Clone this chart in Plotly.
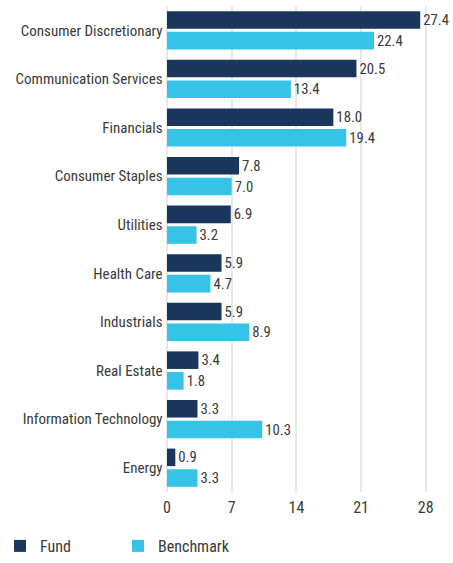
import plotly.graph_objects as go

categories = ["Consumer Discretionary", "Communication Services", "Financials",
              "Consumer Staples", "Utilities", "Health Care", "Industrials",
              "Real Estate", "Information Technology", "Energy"]
fund = [27.4, 20.5, 18.0, 7.8, 6.9, 5.9, 5.9, 3.4, 3.3, 0.9]
benchmark = [22.4, 13.4, 19.4, 7.0, 3.2, 4.7, 8.9, 1.8, 10.3, 3.3]
tick_vals = [0, 7, 14, 21, 28]

FONT = "Roboto Condensed, sans-serif"
TXT = "#3a3a3a"

fig = go.Figure()
fig.add_trace(go.Bar(
    y=categories, x=fund, name="Fund", orientation="h",
    marker=dict(color="#1b365d", line=dict(width=0)),
    text=[f"{v:.1f}" for v in fund], textposition="outside",
    textfont=dict(size=16, color=TXT, family=FONT), cliponaxis=False,
))
fig.add_trace(go.Bar(
    y=categories, x=benchmark, name="Benchmark", orientation="h",
    marker=dict(color="#35c4e8", line=dict(width=0)),
    text=[f"{v:.1f}" for v in benchmark], textposition="outside",
    textfont=dict(size=16, color=TXT, family=FONT), cliponaxis=False,
))

fig.update_layout(
    width=453, height=563,
    margin=dict(l=167, r=0, t=6, b=71),
    barmode="group", bargap=0.15, bargroupgap=0.15,
    plot_bgcolor="white", paper_bgcolor="white",
    font=dict(family=FONT, size=16, color=TXT),
    showlegend=True,
    legend=dict(orientation="h", xref="container", yref="container",
                x=0, xanchor="left", y=0, yanchor="bottom",
                font=dict(size=16, color=TXT, family=FONT), itemwidth=30,
                entrywidth=73, entrywidthmode="pixels"),
    xaxis=dict(range=[0, 30.95], tickvals=tick_vals, showgrid=True,
               gridcolor="#e8e8e8", gridwidth=2, zeroline=True,
               zerolinecolor="#e8e8e8", zerolinewidth=2,
               tickfont=dict(size=16, color=TXT), ticks="", automargin=False,
               ticklabelstandoff=4),
    yaxis=dict(autorange="reversed", showgrid=False, ticks="", automargin=False,
               tickfont=dict(size=15, color=TXT), ticksuffix=" "),
)

fig.write_html("out.html", config={"displayModeBar": False},
               post_script="document.body.style.margin='0';")
